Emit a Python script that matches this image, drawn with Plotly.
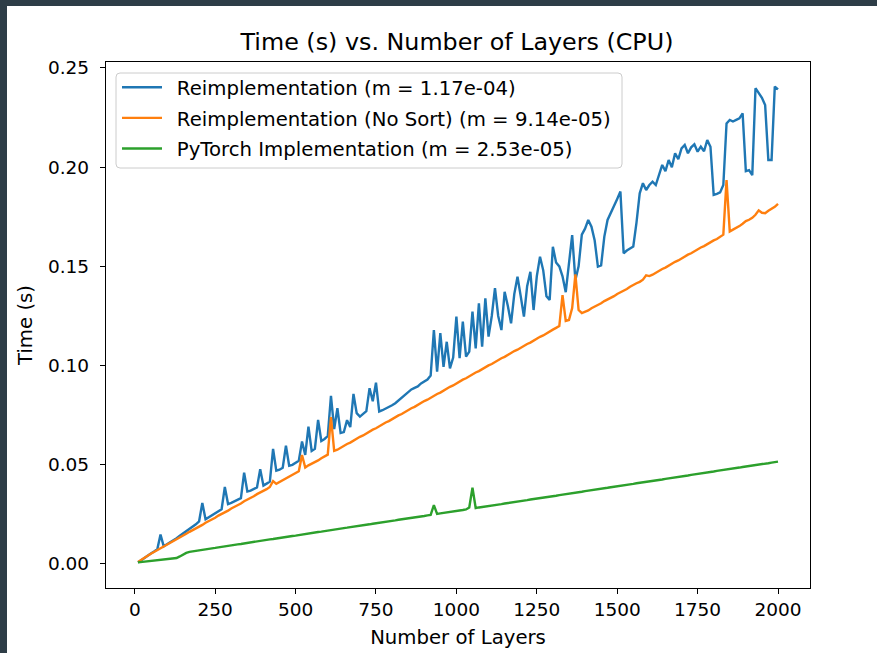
import plotly.graph_objects as go

# Number of layers in each timed network
layers = list(range(10, 2001, 10))

# Measured forward time (seconds) per implementation
reimpl_time = [
    0.0008, 0.0020, 0.0032, 0.0043, 0.0053, 0.0063, 0.0074, 0.0148, 0.0089, 0.0099,
    0.0108, 0.0119, 0.0130, 0.0142, 0.0153, 0.0164, 0.0175, 0.0188, 0.0200, 0.0215,
    0.0308, 0.0225, 0.0235, 0.0245, 0.0255, 0.0268, 0.0276, 0.0388, 0.0302, 0.0308,
    0.0316, 0.0325, 0.0332, 0.0460, 0.0365, 0.0370, 0.0378, 0.0386, 0.0478, 0.0395,
    0.0405, 0.0415, 0.0580, 0.0470, 0.0475, 0.0485, 0.0596, 0.0495, 0.0500, 0.0510,
    0.0520, 0.0617, 0.0550, 0.0692, 0.0570, 0.0580, 0.0726, 0.0620, 0.0630, 0.0645,
    0.0847, 0.0680, 0.0785, 0.0660, 0.0665, 0.0725, 0.0690, 0.0857, 0.0760, 0.0743,
    0.0755, 0.0770, 0.0886, 0.0820, 0.0914, 0.0768, 0.0775, 0.0782, 0.0790, 0.0800,
    0.0810, 0.0825, 0.0835, 0.0850, 0.0868, 0.0880, 0.0888, 0.0895, 0.0910, 0.0920,
    0.0930, 0.0950, 0.1179, 0.0969, 0.1164, 0.0994, 0.1120, 0.0986, 0.1040, 0.1247,
    0.1037, 0.1221, 0.1045, 0.1070, 0.1272, 0.1087, 0.1314, 0.1095, 0.1339, 0.1146,
    0.1250, 0.1390, 0.1250, 0.1179, 0.1372, 0.1300, 0.1213, 0.1360, 0.1448, 0.1350,
    0.1247, 0.1400, 0.1473, 0.1280, 0.1450, 0.1549, 0.1480, 0.1350, 0.1331, 0.1599,
    0.1520, 0.1500, 0.1450, 0.1370, 0.1500, 0.1658, 0.1431, 0.1500, 0.1660, 0.1690,
    0.1734, 0.1700, 0.1630, 0.1499, 0.1505, 0.1650, 0.1734, 0.1768, 0.1800, 0.1840,
    0.1877, 0.1566, 0.1580, 0.1590, 0.1600, 0.1720, 0.1868, 0.1919, 0.1885, 0.1910,
    0.1927, 0.1910, 0.1960, 0.2011, 0.1980, 0.2036, 0.2000, 0.2070, 0.2040, 0.2095,
    0.2112, 0.2070, 0.2100, 0.2115, 0.2078, 0.2103, 0.2080, 0.2137, 0.2103, 0.1860,
    0.1865, 0.1873, 0.1910, 0.2220, 0.2238, 0.2230, 0.2238, 0.2246, 0.2271, 0.1980,
    0.1985, 0.1960, 0.2398, 0.2375, 0.2350, 0.2313, 0.2036, 0.2036, 0.2406, 0.2392,
]

nosort_time = [
    0.0010, 0.0022, 0.0033, 0.0042, 0.0052, 0.0061, 0.0069, 0.0078, 0.0086, 0.0095,
    0.0104, 0.0112, 0.0122, 0.0131, 0.0142, 0.0152, 0.0162, 0.0170, 0.0180, 0.0188,
    0.0197, 0.0208, 0.0215, 0.0226, 0.0233, 0.0244, 0.0251, 0.0262, 0.0269, 0.0280,
    0.0287, 0.0298, 0.0305, 0.0316, 0.0323, 0.0334, 0.0341, 0.0352, 0.0359, 0.0370,
    0.0377, 0.0388, 0.0418, 0.0404, 0.0413, 0.0424, 0.0431, 0.0442, 0.0449, 0.0460,
    0.0467, 0.0549, 0.0486, 0.0497, 0.0504, 0.0515, 0.0522, 0.0533, 0.0540, 0.0551,
    0.0740, 0.0570, 0.0576, 0.0587, 0.0594, 0.0605, 0.0612, 0.0623, 0.0630, 0.0641,
    0.0648, 0.0659, 0.0666, 0.0677, 0.0684, 0.0695, 0.0702, 0.0713, 0.0720, 0.0731,
    0.0738, 0.0749, 0.0756, 0.0767, 0.0774, 0.0785, 0.0792, 0.0803, 0.0810, 0.0821,
    0.0828, 0.0839, 0.0846, 0.0857, 0.0864, 0.0875, 0.0882, 0.0893, 0.0900, 0.0911,
    0.0918, 0.0929, 0.0936, 0.0947, 0.0954, 0.0965, 0.0972, 0.0983, 0.0990, 0.1001,
    0.1008, 0.1019, 0.1026, 0.1037, 0.1044, 0.1055, 0.1062, 0.1073, 0.1080, 0.1091,
    0.1098, 0.1109, 0.1116, 0.1127, 0.1134, 0.1145, 0.1152, 0.1163, 0.1170, 0.1181,
    0.1190, 0.1199, 0.1355, 0.1225, 0.1230, 0.1290, 0.1460, 0.1280, 0.1265, 0.1271,
    0.1278, 0.1289, 0.1296, 0.1307, 0.1314, 0.1325, 0.1332, 0.1343, 0.1350, 0.1361,
    0.1368, 0.1379, 0.1386, 0.1397, 0.1404, 0.1415, 0.1422, 0.1433, 0.1455, 0.1451,
    0.1458, 0.1469, 0.1476, 0.1487, 0.1494, 0.1505, 0.1512, 0.1523, 0.1530, 0.1541,
    0.1548, 0.1559, 0.1566, 0.1577, 0.1584, 0.1595, 0.1602, 0.1613, 0.1620, 0.1631,
    0.1638, 0.1649, 0.1660, 0.1935, 0.1676, 0.1685, 0.1692, 0.1703, 0.1715, 0.1728,
    0.1735, 0.1745, 0.1760, 0.1782, 0.1770, 0.1768, 0.1780, 0.1790, 0.1800, 0.1815,
]

pytorch_time = [
    0.0008, 0.0010, 0.0012, 0.0014, 0.0016, 0.0018, 0.0020, 0.0022, 0.0024, 0.0025,
    0.0027, 0.0028, 0.0030, 0.0038, 0.0048, 0.0056, 0.0061, 0.0064, 0.0067, 0.0069,
    0.0071, 0.0074, 0.0076, 0.0079, 0.0081, 0.0084, 0.0086, 0.0089, 0.0091, 0.0094,
    0.0096, 0.0099, 0.0101, 0.0104, 0.0106, 0.0109, 0.0111, 0.0114, 0.0116, 0.0119,
    0.0121, 0.0124, 0.0126, 0.0129, 0.0131, 0.0133, 0.0136, 0.0138, 0.0141, 0.0143,
    0.0146, 0.0148, 0.0151, 0.0153, 0.0156, 0.0158, 0.0161, 0.0163, 0.0166, 0.0168,
    0.0171, 0.0173, 0.0176, 0.0178, 0.0181, 0.0183, 0.0185, 0.0188, 0.0190, 0.0193,
    0.0195, 0.0198, 0.0200, 0.0203, 0.0205, 0.0208, 0.0210, 0.0213, 0.0215, 0.0218,
    0.0220, 0.0223, 0.0225, 0.0228, 0.0230, 0.0233, 0.0235, 0.0238, 0.0240, 0.0242,
    0.0245, 0.0247, 0.0297, 0.0252, 0.0255, 0.0257, 0.0260, 0.0262, 0.0265, 0.0267,
    0.0270, 0.0272, 0.0275, 0.0285, 0.0385, 0.0282, 0.0285, 0.0287, 0.0290, 0.0292,
    0.0295, 0.0297, 0.0300, 0.0302, 0.0305, 0.0307, 0.0310, 0.0312, 0.0315, 0.0317,
    0.0320, 0.0322, 0.0325, 0.0327, 0.0329, 0.0332, 0.0334, 0.0337, 0.0339, 0.0342,
    0.0344, 0.0347, 0.0349, 0.0352, 0.0354, 0.0357, 0.0359, 0.0362, 0.0364, 0.0367,
    0.0369, 0.0372, 0.0374, 0.0377, 0.0379, 0.0382, 0.0384, 0.0387, 0.0389, 0.0392,
    0.0394, 0.0397, 0.0399, 0.0402, 0.0404, 0.0407, 0.0409, 0.0411, 0.0414, 0.0416,
    0.0419, 0.0421, 0.0424, 0.0426, 0.0429, 0.0431, 0.0434, 0.0436, 0.0439, 0.0441,
    0.0444, 0.0446, 0.0449, 0.0451, 0.0454, 0.0456, 0.0459, 0.0461, 0.0464, 0.0466,
    0.0469, 0.0471, 0.0474, 0.0476, 0.0479, 0.0481, 0.0484, 0.0486, 0.0489, 0.0491,
    0.0493, 0.0496, 0.0498, 0.0501, 0.0503, 0.0506, 0.0508, 0.0511, 0.0513, 0.0516,
]

series_names = [
    "Reimplementation (m = 1.17e-04)",
    "Reimplementation (No Sort) (m = 9.14e-05)",
    "PyTorch Implementation (m = 2.53e-05)",
]
series_colors = ["#1f77b4", "#ff7f0e", "#2ca02c"]

x_ticks = [0, 250, 500, 750, 1000, 1250, 1500, 1750, 2000]
y_ticks = [0.00, 0.05, 0.10, 0.15, 0.20, 0.25]

FONT = "DejaVu Sans"
FRAME = "#2e3d47"

fig = go.Figure()
for i, (name, color, ys) in enumerate(
    zip(series_names, series_colors, [reimpl_time, nosort_time, pytorch_time])
):
    fig.add_trace(
        go.Scatter(
            x=layers,
            y=ys,
            mode="lines",
            # en space widens the gap between the legend swatch and its label
            name="\u2002" + name,
            legendgroup=f"g{i}",
            line=dict(color=color, width=2.4),
        )
    )

W, H = 877, 653
L, R, T, B = 106, 810, 62, 588


def px_x(p):
    return (p - L) / (R - L)


def px_y(p):
    return (B - p) / (B - T)


def rounded_box(x0, y0, x1, y1, r):
    """SVG path (paper coords) for a rectangle with rounded corners, given in pixels."""
    pts = [
        f"M {px_x(x0 + r)},{px_y(y0)}",
        f"L {px_x(x1 - r)},{px_y(y0)}",
        f"Q {px_x(x1)},{px_y(y0)} {px_x(x1)},{px_y(y0 + r)}",
        f"L {px_x(x1)},{px_y(y1 - r)}",
        f"Q {px_x(x1)},{px_y(y1)} {px_x(x1 - r)},{px_y(y1)}",
        f"L {px_x(x0 + r)},{px_y(y1)}",
        f"Q {px_x(x0)},{px_y(y1)} {px_x(x0)},{px_y(y1 - r)}",
        f"L {px_x(x0)},{px_y(y0 + r)}",
        f"Q {px_x(x0)},{px_y(y0)} {px_x(x0 + r)},{px_y(y0)}",
        "Z",
    ]
    return " ".join(pts)


axis_common = dict(
    tickmode="array",
    ticks="outside",
    ticklen=5,
    tickwidth=1.3,
    tickcolor="black",
    tickfont=dict(family=FONT, size=18.5, color="black"),
    showline=True,
    linecolor="black",
    linewidth=1.3,
    mirror=True,
    showgrid=False,
    zeroline=False,
    automargin=False,
)

fig.update_layout(
    width=W,
    height=H,
    margin=dict(l=L, r=W - R, t=T, b=H - B, pad=0),
    paper_bgcolor="white",
    plot_bgcolor="white",
    font=dict(family=FONT, size=19.7, color="black"),
    title=dict(
        text="Time (s) vs. Number of Layers (CPU)",
        x=457 / W,
        xanchor="center",
        y=1 - 42 / H,
        yanchor="middle",
        font=dict(family=FONT, size=23.8, color="black"),
    ),
    showlegend=True,
    legend=dict(
        x=px_x(117),
        y=px_y(68),
        xanchor="left",
        yanchor="top",
        bgcolor="rgba(0,0,0,0)",
        borderwidth=0,
        font=dict(family=FONT, size=19.7, color="black"),
        traceorder="grouped",
        tracegroupgap=2,
        itemwidth=40,
    ),
    xaxis=dict(
        range=[-89.5, 2099.5],
        tickvals=x_ticks,
        ticktext=[str(v) for v in x_ticks],
        ticklabelstandoff=0,
        title=dict(text="Number of Layers", standoff=10, font=dict(size=19.7)),
        **axis_common,
    ),
    yaxis=dict(
        range=[-0.0121, 0.2530],
        tickvals=y_ticks,
        ticktext=[f"{v:.2f}" for v in y_ticks],
        ticklabelstandoff=7,
        title=dict(text="Time (s)", standoff=10, font=dict(size=19.7)),
        **axis_common,
    ),
    shapes=[
        # dark window frame along the top and left edges
        dict(
            type="rect", xref="paper", yref="paper",
            x0=px_x(-20), x1=px_x(W + 20), y0=px_y(6), y1=px_y(-20),
            fillcolor=FRAME, line=dict(width=0), layer="below",
        ),
        dict(
            type="rect", xref="paper", yref="paper",
            x0=px_x(-20), x1=px_x(7), y0=px_y(H + 20), y1=px_y(-20),
            fillcolor=FRAME, line=dict(width=0), layer="below",
        ),
        # legend frame: translucent white with rounded light-grey edge
        dict(
            type="path", xref="paper", yref="paper",
            path=rounded_box(116, 73, 622, 168, 4),
            fillcolor="rgba(255,255,255,0.8)",
            line=dict(color="#cccccc", width=1),
            layer="above",
        ),
    ],
)

fig.write_html("out.html")
